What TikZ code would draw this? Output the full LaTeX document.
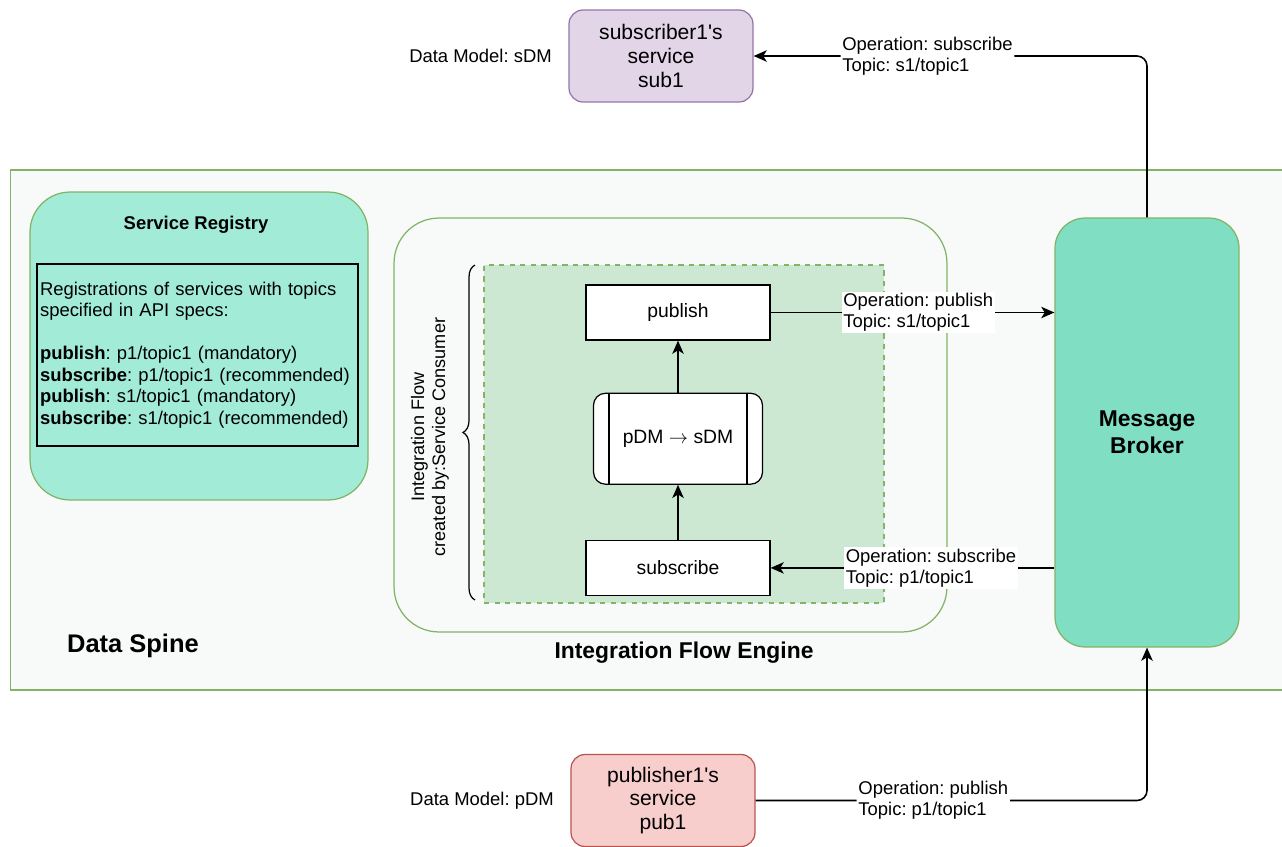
\documentclass[tikz,border=0pt]{standalone}
\usepackage{fontspec}
\setmainfont{Liberation Sans}
\usepackage{xcolor}
\usetikzlibrary{positioning,arrows.meta,decorations.pathreplacing}
\frenchspacing

\definecolor{spinebg}{HTML}{F8F9F9}
\definecolor{zonegreen}{HTML}{82B366}
\definecolor{regfill}{HTML}{A2EBD6}
\definecolor{brokerfill}{HTML}{80DEC2}
\definecolor{flowfill}{HTML}{CDE8D2}
\definecolor{subfill}{HTML}{E1D5E7}
\definecolor{subline}{HTML}{9673A6}
\definecolor{pubfill}{HTML}{F8CECC}
\definecolor{publine}{HTML}{B85450}

\begin{document}
\begin{tikzpicture}[>={Stealth[length=7.5pt,width=6.5pt,inset=2pt]},line width=0.9pt,x=0.02cm,y=-0.02cm,
  zone/.style={draw=zonegreen,line width=0.7pt},
  svc node/.style={draw,line width=0.7pt,rounded corners=0.28cm,minimum width=3.68cm,minimum height=1.84cm,align=center,font=\fontsize{12}{13.6}\selectfont},
  flow step/.style={draw,fill=white,line width=0.7pt,minimum width=3.68cm,minimum height=1.1cm,font=\fontsize{11}{13}\selectfont},
  op label/.style={fill=white,align=left,inner sep=1pt,font=\fontsize{10.5}{12}\selectfont},
  plain label/.style={font=\fontsize{10.5}{12}\selectfont},
  title/.style={font=\bfseries\fontsize{13}{15.3}\selectfont,align=center}]
    \useasboundingbox (0,0) rectangle (1282,846);
    \clip (0,0) rectangle (1282,846);

    % data spine and its parts
    \node[zone,fill=spinebg,minimum width=25.8cm,minimum height=10.4cm] (spine) at (655,430) {};
    \node[font=\bfseries\fontsize{14.5}{17}\selectfont] (spinetitle) at (133,646) {Data Spine};

    \node[zone,fill=regfill,rounded corners=0.8cm,minimum width=6.76cm,minimum height=6.16cm] (registry) at (199,346) {};
    \node[font=\bfseries\fontsize{10.5}{12}\selectfont] (regtitle) at (196,225) {Service Registry};
    \node[draw,line width=0.8pt,text width=6.3cm,minimum height=3.64cm,inner xsep=0.06cm,align=left,font=\fontsize{10.5}{12.2}\selectfont] (reglist) at (197.5,355)
        {Registrations of services with topics\\specified in API specs:\\[12.2pt]
         \textbf{publish}: p1/topic1 (mandatory)\\
         \textbf{subscribe}: p1/topic1 (recommended)\\
         \textbf{publish}: s1/topic1 (mandatory)\\
         \textbf{subscribe}: s1/topic1 (recommended)};

    \node[zone,fill=spinebg,rounded corners=0.9cm,minimum width=11.06cm,minimum height=8.28cm] (engine) at (670.5,425) {};
    \node[title] (enginetitle) at (684,653) {Integration Flow Engine};
    \node[draw=zonegreen,dashed,fill=flowfill,line width=0.7pt,minimum width=8cm,minimum height=6.76cm] (flow) at (684,434) {};
    \draw[decorate,decoration={brace,amplitude=0.24cm},line width=0.7pt] (475,600) -- (475,265);
    \node[rotate=90,align=center,font=\fontsize{10.3}{12}\selectfont] (flowlabel) at (430,437) {Integration Flow\\created by:Service Consumer};

    \node[flow step] (publish) at (678,312.5) {publish};
    \node[draw,fill=white,line width=0.7pt,rounded corners=0.24cm,minimum width=3.38cm,minimum height=1.82cm,font=\fontsize{11}{13}\selectfont] (mapping) [below=1.04cm of publish] {pDM $\rightarrow$ sDM};
    \node[flow step] (subscribe) [below=1.1cm of mapping] {subscribe};
    \draw[line width=0.7pt] ([xshift=0.32cm]mapping.north west) -- ([xshift=0.32cm]mapping.south west);
    \draw[line width=0.7pt] ([xshift=-0.32cm]mapping.north east) -- ([xshift=-0.32cm]mapping.south east);

    \node[zone,fill=brokerfill,rounded corners=0.6cm,minimum width=3.68cm,minimum height=8.58cm,title] (broker) at (1147,432.5) {Message\\Broker};

    % services outside the spine
    \node[svc node,fill=subfill,draw=subline] (sub1) at (661,56) {subscriber1\textquotesingle s\\service\\sub1};
    \node[plain label,left=0.2cm of sub1] (sdm) {Data Model: sDM};
    \node[svc node,fill=pubfill,draw=publine] (pub1) at (663,800.5) {publisher1\textquotesingle s\\service\\pub1};
    \node[plain label,left=0.2cm of pub1] (pdm) {Data Model: pDM};

    \path[->]
        (subscribe) edge (mapping)
        (mapping) edge (publish);
    \draw[->] (publish.east) -- (publish.east -| broker.west)
        node[op label,pos=0.52] {Operation: publish\\Topic: s1/topic1};
    \draw[->] (subscribe.east -| broker.west) -- (subscribe.east)
        node[op label,pos=0.435] {Operation: subscribe\\Topic: p1/topic1};
    \draw[->,rounded corners=0.2cm] (broker.north) |- (sub1.east)
        node[op label,pos=0.779] {Operation: subscribe\\Topic: s1/topic1};
    \draw[->,rounded corners=0.2cm] (pub1.east) -| (broker.south)
        node[op label,pos=0.227] {Operation: publish\\Topic: p1/topic1};
\end{tikzpicture}
\end{document}
